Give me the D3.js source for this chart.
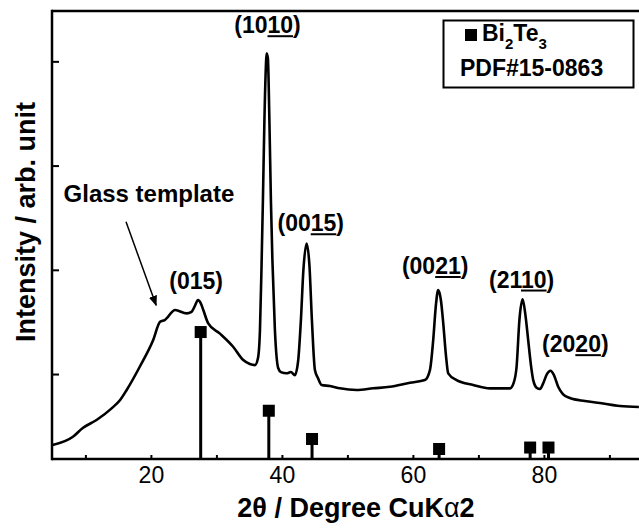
<!DOCTYPE html>
<html lang="en">
<head>
    <meta charset="UTF-8">
    <title>XRD Bi2Te3</title>
    <script src="https://d3js.org/d3.v7.min.js"></script>
    <style>
        body {
            margin: 0;
            padding: 0;
            background-color: #fff;
            overflow: hidden;
        }
        svg {
            display: block;
            font-family: "Liberation Sans", Arial, sans-serif;
        }
        .bold { font-weight: bold; }
    </style>
</head>
<body>
    <script>
        // measured pattern (2theta in degrees, intensity in counts)
        const twoTheta = [5.0, 8.1, 9.6, 11.7, 14.0, 15.3, 16.3, 18.3, 20.35, 21.4, 22.1, 23.7, 25.45, 26.2, 26.7, 27.2,
            27.6, 28.0, 28.75, 30.5, 32.55, 34.1, 35.1, 35.9, 36.35, 36.65, 36.9, 37.1, 37.33, 37.56, 37.66, 37.86,
            38.09, 38.32, 38.55, 38.93, 39.43, 39.85, 40.72, 41.37, 41.98, 42.49, 42.9, 43.28, 43.77, 44.2, 44.58,
            45.04, 45.5, 46.06, 47.33, 48.85, 51.4, 53.94, 56.49, 59.54, 61.83, 62.6, 63.1, 63.51, 63.86, 64.27,
            64.63, 65.04, 65.39, 66.67, 69.21, 71.76, 74.81, 75.42, 75.83, 76.26, 76.75, 77.18, 77.6, 78.02, 78.37,
            78.93, 79.39, 79.89, 80.46, 81.02, 81.53, 82.18, 82.9, 83.97, 86.26, 88.55, 91.6, 94.5];
        const intensity = [319, 399, 482, 559, 671, 751, 847, 1070, 1326, 1501, 1518, 1614, 1582, 1597, 1652, 1710,
            1681, 1614, 1486, 1390, 1262, 1134, 1096, 1086, 1153, 1422, 2064, 2668, 3435, 3963, 4078, 4030,
            3435, 2668, 2093, 1422, 1058, 1019, 1007, 1019, 990, 1134, 1518, 1997, 2253, 2045, 1518,
            1038, 962, 895, 885, 863, 847, 863, 878, 917, 942, 1038, 1326, 1662, 1805, 1710,
            1489, 1182, 1007, 942, 895, 863, 863, 923, 1070, 1518, 1716, 1566, 1326, 1086, 942,
            866, 856, 911, 1000, 1032, 990, 878, 808, 770, 741, 722, 693, 684];

        // Bi2Te3 reference lines, PDF#15-0863
        const refAngles = [27.6, 38.0, 44.6, 64.0, 77.9, 80.7];
        const refIntensity = [1403, 648, 377, 281, 295, 295];

        const xTickValues = [10, 20, 30, 40, 50, 60, 70, 80, 90];
        const xTickLabels = ["", "20", "", "40", "", "60", "", "80", ""];
        const yTickValues = [1000, 2000, 3000, 4000];

        const peakNames = ["(015)", "(1010)", "(0015)", "(0021)", "(2110)", "(2020)"];

        const W = 639, H = 530;
        const mLeft = 52, mTop = 11, mBottom = 459;

        const svg = d3.select("body").append("svg")
            .attr("width", W)
            .attr("height", H);

        const x = d3.scaleLinear().domain([4.9, 95]).range([mLeft, mLeft + 90.1 * 6.55]);
        const y = d3.scaleLinear().domain([185, 4483]).range([mBottom, mTop]);

        // frame (right side is cut off in the original)
        const frame = svg.append("g").attr("stroke", "#000").attr("stroke-width", 2.5);
        frame.append("line").attr("x1", mLeft).attr("x2", W + 5).attr("y1", mTop).attr("y2", mTop);
        frame.append("line").attr("x1", mLeft).attr("x2", W + 5).attr("y1", mBottom).attr("y2", mBottom);
        frame.append("line").attr("x1", mLeft).attr("x2", mLeft).attr("y1", mTop - 1.25).attr("y2", mBottom + 1.25);

        // bottom ticks (inward) and labels
        const xAxis = d3.axisBottom(x)
            .tickValues(xTickValues)
            .tickSize(-4)
            .tickFormat((d, i) => xTickLabels[i]);
        const gx = svg.append("g")
            .attr("transform", `translate(0,${mBottom})`)
            .call(xAxis);
        gx.select(".domain").remove();
        gx.selectAll(".tick line").attr("stroke", "#000").attr("stroke-width", 2);
        gx.selectAll(".tick text")
            .attr("y", 24)
            .attr("dy", 0)
            .attr("fill", "#000")
            .style("font-size", "23px")
            .style("font-family", "'Liberation Sans', Arial, sans-serif");

        // left ticks (inward, no labels)
        const yAxis = d3.axisLeft(y).tickValues(yTickValues).tickSize(-7).tickFormat("");
        const gy = svg.append("g")
            .attr("transform", `translate(${mLeft},0)`)
            .call(yAxis);
        gy.select(".domain").remove();
        gy.selectAll(".tick line").attr("stroke", "#000").attr("stroke-width", 2);

        // pattern
        const pts = twoTheta.map((t, i) => [t, intensity[i]]);
        const line = d3.line()
            .x(d => x(d[0]))
            .y(d => y(d[1]))
            .curve(d3.curveMonotoneX);
        svg.append("path")
            .datum(pts)
            .attr("fill", "none")
            .attr("stroke", "#000")
            .attr("stroke-width", 2.6)
            .attr("stroke-linejoin", "round")
            .attr("d", line);

        // reference stems
        const ref = svg.append("g");
        refAngles.forEach((a, i) => {
            ref.append("line")
                .attr("x1", x(a)).attr("x2", x(a))
                .attr("y1", y(refIntensity[i])).attr("y2", mBottom)
                .attr("stroke", "#000").attr("stroke-width", 3);
            ref.append("rect")
                .attr("x", x(a) - 6).attr("y", y(refIntensity[i]) - 6)
                .attr("width", 12).attr("height", 12)
                .attr("fill", "#000");
        });

        // peak labels with underlined last two digits
        function peakLabel(name, cx, by) {
            const t = svg.append("text")
                .attr("class", "bold")
                .attr("x", cx).attr("y", by)
                .attr("text-anchor", "middle")
                .style("font-size", "23px");
            t.text(name);
            const n = name.length;
            if (n > 5) {
                const node = t.node();
                const s = node.getStartPositionOfChar(n - 3);
                const e = node.getEndPositionOfChar(n - 2);
                svg.append("line")
                    .attr("x1", s.x).attr("x2", e.x)
                    .attr("y1", by + 3).attr("y2", by + 3)
                    .attr("stroke", "#000").attr("stroke-width", 2);
            }
        }
        const labelPos = [[26.9, 1820], [37.8, 4270], [44.4, 2370], [63.4, 1960], [76.6, 1830], [84.8, 1210]];
        peakNames.forEach((p, i) => peakLabel(p, x(labelPos[i][0]), y(labelPos[i][1])));

        // glass template annotation
        svg.append("text")
            .attr("class", "bold")
            .attr("x", x(19.7)).attr("y", y(2650))
            .attr("text-anchor", "middle")
            .style("font-size", "24px")
            .text("Glass template");
        svg.append("defs").append("marker")
            .attr("id", "arr")
            .attr("viewBox", "0 0 10 10")
            .attr("refX", 9).attr("refY", 5)
            .attr("markerWidth", 7).attr("markerHeight", 7)
            .attr("orient", "auto")
            .append("path")
            .attr("d", "M0,1 L10,5 L0,9 z")
            .attr("fill", "#000");
        svg.append("line")
            .attr("x1", x(16.2)).attr("y1", y(2460))
            .attr("x2", x(20.8)).attr("y2", y(1660))
            .attr("stroke", "#000").attr("stroke-width", 1.5)
            .attr("marker-end", "url(#arr)");

        // legend
        const lg = svg.append("g");
        lg.append("rect")
            .attr("x", 443.5).attr("y", 20.5)
            .attr("width", 190).attr("height", 67)
            .attr("fill", "#fff").attr("stroke", "#000").attr("stroke-width", 2);
        lg.append("rect")
            .attr("x", 465).attr("y", 29)
            .attr("width", 12).attr("height", 12)
            .attr("fill", "#000");
        const lt = lg.append("text").attr("class", "bold")
            .attr("x", 482).attr("y", 41)
            .style("font-size", "23px");
        lt.append("tspan").text("Bi");
        lt.append("tspan").attr("dy", 8).style("font-size", "15px").text("2");
        lt.append("tspan").attr("dy", -8).text("Te");
        lt.append("tspan").attr("dy", 8).style("font-size", "15px").text("3");
        lg.append("text").attr("class", "bold")
            .attr("x", 460).attr("y", 76)
            .style("font-size", "23px")
            .text("PDF#15-0863");

        // axis titles
        const xt = svg.append("text")
            .attr("class", "bold")
            .attr("x", 356).attr("y", 517)
            .attr("text-anchor", "middle")
            .style("font-size", "27px");
        xt.append("tspan").text("2θ / Degree CuK");
        xt.append("tspan").style("font-weight", "normal").text("α");
        xt.append("tspan").text("2");

        svg.append("text")
            .attr("class", "bold")
            .attr("transform", `translate(35,222) rotate(-90)`)
            .attr("text-anchor", "middle")
            .style("font-size", "27px")
            .text("Intensity / arb. unit");
    </script>
</body>
</html>
